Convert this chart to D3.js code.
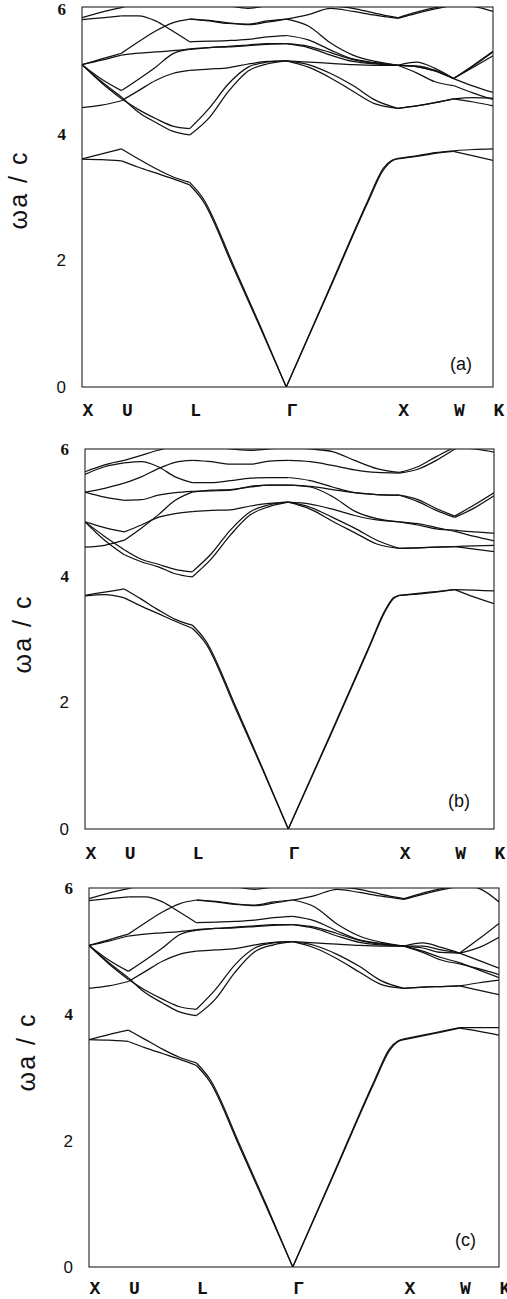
<!DOCTYPE html>
<html>
<head>
<meta charset="utf-8">
<script src="https://cdn.jsdelivr.net/npm/d3@7"></script>
<style>
body { margin: 0; background: #fff; }
svg { display: block; }
.band { fill: none; stroke: #111; stroke-width: 1.25; stroke-linejoin: round; }
.frame { fill: none; stroke: #222; stroke-width: 1.1; }
</style>
</head>
<body>
<svg id="chart" width="507" height="1299"></svg>
<script>
// k path X-U-L-Γ-X-W-K (units of 2π/a, cumulative distance)
var symK = [0, 0.354, 0.966, 1.832, 2.832, 3.332, 3.686];
var symLabels = ["X", "U", "L", "Γ", "X", "W", "K"];
var yTicks = [0, 2, 4, 6];

// sample points for the optical bands and for the two lowest bands
var kGrid = [0, 0.177, 0.354, 0.507, 0.66, 0.813, 0.966, 1.14, 1.31, 1.49, 1.66, 1.832,
             2.03, 2.23, 2.43, 2.63, 2.832, 3.0, 3.166, 3.332, 3.51, 3.686];
var kAco = [0, 0.177, 0.354, 0.507, 0.66, 0.813, 0.966, 1.085, 1.354, 1.6, 1.832,
            2.2, 2.565, 2.7, 2.78, 2.832, 3.0, 3.166, 3.332, 3.51, 3.686];

// ---- panel (a) ----
var aAco1 = [3.60, 3.59, 3.57, 3.47, 3.38, 3.29, 3.19, 2.94, 1.90, 0.93, 0, 1.46, 2.92, 3.42, 3.57, 3.60, 3.64, 3.69, 3.72, 3.65, 3.58];
var aAco2 = [3.60, 3.68, 3.76, 3.60, 3.45, 3.32, 3.23, 2.98, 1.94, 0.96, 0, 1.48, 2.95, 3.45, 3.58, 3.61, 3.65, 3.70, 3.73, 3.75, 3.76];
var aBand1 = [4.41, 4.45, 4.52, 4.68, 4.84, 4.95, 5.00, 5.02, 5.04, 5.10, 5.14, 5.15, 5.13, 5.11, 5.09, 5.08, 5.08, 5.13, 5.03, 4.87, 4.75, 4.65];
var aBand2 = [5.09, 4.80, 4.55, 4.38, 4.24, 4.12, 4.08, 4.40, 4.78, 5.05, 5.13, 5.15, 5.09, 4.95, 4.76, 4.53, 4.40, 4.44, 4.49, 4.55, 4.57, 4.56];
var aBand3 = [5.09, 4.82, 4.58, 4.34, 4.18, 4.04, 3.98, 4.25, 4.66, 4.99, 5.10, 5.15, 5.05, 4.88, 4.67, 4.47, 4.40, 4.44, 4.49, 4.55, 4.50, 4.44];
var aBand4 = [5.09, 4.86, 4.68, 4.86, 5.05, 5.26, 5.33, 5.36, 5.38, 5.40, 5.42, 5.42, 5.36, 5.24, 5.14, 5.10, 5.08, 5.07, 5.00, 4.87, 5.08, 5.30];
var aBand5 = [5.09, 5.18, 5.27, 5.45, 5.62, 5.75, 5.81, 5.78, 5.74, 5.73, 5.78, 5.81, 5.70, 5.43, 5.24, 5.14, 5.08, 4.96, 4.82, 4.76, 4.64, 4.54];
var aBand6 = [5.80, 5.83, 5.86, 5.86, 5.78, 5.62, 5.45, 5.46, 5.47, 5.49, 5.53, 5.55, 5.48, 5.32, 5.18, 5.12, 5.08, 5.06, 4.99, 4.87, 5.05, 5.23];
var aBand7 = [5.09, 5.16, 5.24, 5.27, 5.29, 5.31, 5.34, 5.36, 5.37, 5.39, 5.41, 5.42, 5.38, 5.28, 5.17, 5.11, 5.08, 5.06, 4.99, 4.87, 5.07, 5.29];
var aBand8 = [5.83, 5.92, 5.99, 6.06, 6.10, 6.10, 6.10, 6.06, 6.02, 5.98, 6.02, 6.05, 6.05, 6.02, 5.98, 5.90, 5.83, 5.92, 5.99, 6.04, 6.01, 5.93];
var aBand9 = [null, null, null, null, null, null, 5.81, 5.79, 5.75, 5.72, 5.76, 5.81, 5.88, 5.98, 5.93, 5.87, 5.82, 5.90, 5.97, 6.03, 6.06, 6.06];

// ---- panel (b) ----
var bAco1 = [3.68, 3.70, 3.65, 3.52, 3.40, 3.28, 3.17, 2.94, 1.91, 0.94, 0, 1.43, 2.88, 3.42, 3.64, 3.69, 3.71, 3.74, 3.78, 3.66, 3.56];
var bAco2 = [3.69, 3.74, 3.79, 3.63, 3.46, 3.31, 3.22, 2.98, 1.95, 0.96, 0, 1.45, 2.90, 3.44, 3.65, 3.69, 3.72, 3.75, 3.78, 3.77, 3.76];
var bBand1 = [5.64, 5.75, 5.82, 5.90, 5.98, 6.05, 6.08, 6.05, 6.00, 5.98, 6.00, 6.03, 6.00, 5.96, 5.82, 5.69, 5.63, 5.72, 5.88, 6.03, 6.00, 5.95];
var bBand2 = [5.60, 5.72, 5.78, 5.80, 5.72, 5.56, 5.47, 5.47, 5.50, 5.54, 5.55, 5.55, 5.50, 5.40, 5.31, 5.28, 5.27, 5.17, 5.03, 4.92, 5.07, 5.26];
var bBand3 = [5.32, 5.38, 5.46, 5.56, 5.69, 5.79, 5.82, 5.80, 5.76, 5.76, 5.81, 5.82, 5.80, 5.74, 5.67, 5.63, 5.62, 5.68, 5.82, 6.00, 6.05, 6.05];
var bBand4 = [5.32, 5.24, 5.19, 5.20, 5.27, 5.31, 5.33, 5.34, 5.35, 5.41, 5.43, 5.43, 5.41, 5.36, 5.31, 5.28, 5.27, 5.20, 5.06, 4.94, 5.12, 5.31];
var bBand5 = [4.85, 4.76, 4.69, 4.80, 4.92, 4.98, 5.01, 5.03, 5.04, 5.10, 5.14, 5.16, 5.13, 5.05, 4.95, 4.88, 4.85, 4.82, 4.76, 4.70, 4.62, 4.55];
var bBand6 = [4.85, 4.62, 4.41, 4.26, 4.18, 4.10, 4.06, 4.35, 4.72, 5.01, 5.12, 5.16, 5.08, 4.92, 4.75, 4.56, 4.43, 4.44, 4.45, 4.46, 4.47, 4.48];
var bBand7 = [4.85, 4.56, 4.33, 4.22, 4.14, 4.03, 3.98, 4.27, 4.64, 4.96, 5.09, 5.16, 5.05, 4.86, 4.68, 4.50, 4.43, 4.44, 4.45, 4.46, 4.42, 4.38];
var bBand8 = [4.45, 4.48, 4.56, 4.75, 4.96, 5.19, 5.32, 5.35, 5.36, 5.40, 5.43, 5.43, 5.40, 5.25, 5.02, 4.90, 4.85, 4.80, 4.74, 4.72, 4.69, 4.67];

// ---- panel (c) ----
var cAco1 = [3.60, 3.59, 3.57, 3.47, 3.38, 3.29, 3.19, 2.94, 1.90, 0.93, 0, 1.46, 2.92, 3.42, 3.57, 3.60, 3.66, 3.72, 3.78, 3.73, 3.67];
var cAco2 = [3.60, 3.68, 3.75, 3.60, 3.45, 3.32, 3.23, 2.98, 1.94, 0.96, 0, 1.48, 2.95, 3.45, 3.58, 3.61, 3.67, 3.73, 3.79, 3.79, 3.79];
var cBand1 = [4.41, 4.45, 4.52, 4.68, 4.84, 4.95, 5.00, 5.02, 5.04, 5.10, 5.14, 5.15, 5.13, 5.11, 5.09, 5.08, 5.08, 5.13, 5.06, 4.97, 4.85, 4.73];
var cBand2 = [5.09, 4.80, 4.55, 4.38, 4.24, 4.12, 4.08, 4.40, 4.78, 5.05, 5.13, 5.15, 5.09, 4.95, 4.76, 4.53, 4.41, 4.43, 4.44, 4.45, 4.50, 4.54];
var cBand3 = [5.09, 4.82, 4.58, 4.34, 4.18, 4.04, 3.98, 4.25, 4.66, 4.99, 5.10, 5.15, 5.05, 4.88, 4.67, 4.47, 4.41, 4.43, 4.44, 4.45, 4.38, 4.31];
var cBand4 = [5.09, 4.86, 4.68, 4.86, 5.05, 5.26, 5.33, 5.36, 5.38, 5.40, 5.42, 5.42, 5.36, 5.24, 5.14, 5.10, 5.08, 5.08, 5.02, 4.97, 5.20, 5.44];
var cBand5 = [5.09, 5.18, 5.27, 5.45, 5.62, 5.75, 5.81, 5.78, 5.74, 5.73, 5.78, 5.81, 5.70, 5.43, 5.24, 5.14, 5.08, 4.98, 4.86, 4.80, 4.72, 4.63];
var cBand6 = [5.80, 5.83, 5.86, 5.86, 5.78, 5.62, 5.45, 5.46, 5.47, 5.49, 5.53, 5.55, 5.48, 5.32, 5.18, 5.12, 5.08, 5.05, 4.98, 4.97, 5.06, 5.22];
var cBand7 = [5.09, 5.16, 5.24, 5.27, 5.29, 5.31, 5.34, 5.36, 5.37, 5.39, 5.41, 5.42, 5.38, 5.28, 5.17, 5.11, 5.08, 5.00, 4.90, 4.82, 4.70, 4.58];
var cBand8 = [5.83, 5.92, 5.99, 6.06, 6.10, 6.10, 6.10, 6.06, 6.02, 5.98, 6.02, 6.05, 6.05, 6.02, 5.98, 5.90, 5.83, 5.92, 5.99, 6.05, 5.99, 5.78];
var cBand9 = [null, null, null, null, null, null, 5.81, 5.79, 5.75, 5.72, 5.76, 5.81, 5.88, 5.98, 5.93, 5.87, 5.82, 5.90, 5.97, 6.03, 6.06, 6.06];

// layout of the three stacked panels
var panels = [
    {id: "a", name: "(a)", left: 82, right: 493, top: 7, bottom: 387, padX: 16,
     nameX: 450, nameY: 370, yLabX: 27, yLabY: 190,
     aco: [aAco1, aAco2], bands: [aBand1, aBand2, aBand3, aBand4, aBand5, aBand6, aBand7, aBand8, aBand9]},
    {id: "b", name: "(b)", left: 85, right: 494, top: 449, bottom: 829, padX: 17,
     nameX: 448, nameY: 807, yLabX: 31, yLabY: 634,
     aco: [bAco1, bAco2], bands: [bBand1, bBand2, bBand3, bBand4, bBand5, bBand6, bBand7, bBand8]},
    {id: "c", name: "(c)", left: 89, right: 499, top: 888, bottom: 1267, padX: 14,
     nameX: 455, nameY: 1246, yLabX: 35, yLabY: 1052,
     aco: [cAco1, cAco2], bands: [cBand1, cBand2, cBand3, cBand4, cBand5, cBand6, cBand7, cBand8, cBand9]}
];

var svg = d3.select("#chart");

panels.forEach(function(p) {
    var x = d3.scaleLinear().domain([0, symK[symK.length - 1]]).range([p.left, p.right]);
    var y = d3.scaleLinear().domain([0, 6]).range([p.bottom, p.top]);
    var line = d3.line()
        .x(function(d) { return x(d[0]); })
        .y(function(d) { return y(d[1]); })
        .curve(d3.curveMonotoneX);

    svg.append("clipPath").attr("id", "clip-" + p.id)
        .append("rect")
        .attr("x", p.left).attr("y", p.top)
        .attr("width", p.right - p.left).attr("height", p.bottom - p.top);

    var g = svg.append("g").attr("clip-path", "url(#clip-" + p.id + ")");

    //draw one band, split at the symmetry points
    function drawBand(kArr, vals) {
        var pts = kArr.map(function(k, i) { return [k, vals[i]]; });
        for (var s = 0; s < symK.length - 1; s++) {
            var seg = pts.filter(function(d) {
                return d[1] !== null && d[0] >= symK[s] - 1e-6 && d[0] <= symK[s + 1] + 1e-6;
            });
            if (seg.length < 2) continue;
            g.append("path").attr("class", "band").attr("d", line(seg));
        }
    }
    p.aco.forEach(function(b) { drawBand(kAco, b); });
    p.bands.forEach(function(b) { drawBand(kGrid, b); });

    svg.append("rect").attr("class", "frame")
        .attr("x", p.left).attr("y", p.top)
        .attr("width", p.right - p.left).attr("height", p.bottom - p.top);

    // symmetry point labels
    var xAxis = svg.append("g")
        .attr("transform", "translate(0," + p.bottom + ")")
        .call(d3.axisBottom(x).tickValues(symK).tickSize(0).tickPadding(p.padX)
            .tickFormat(function(d, i) { return symLabels[i]; }));
    xAxis.select(".domain").remove();
    xAxis.selectAll("text")
        .attr("text-anchor", "start")
        .attr("dx", 0)
        .style("font-family", "'Liberation Mono', 'DejaVu Sans Mono', monospace")
        .style("font-weight", "bold")
        .style("font-size", "18px")
        .style("fill", "#111");

    var yAxis = svg.append("g")
        .attr("transform", "translate(" + p.left + ",0)")
        .call(d3.axisLeft(y).tickValues(yTicks).tickSize(0).tickPadding(16).tickFormat(d3.format("d")));
    yAxis.select(".domain").remove();
    yAxis.selectAll("text")
        .attr("dy", function(d) { return (d === 6 && p.top < 10) ? "0.42em" : "0.32em"; })
        .style("font-family", function(d) { return d >= 4 ? "'Liberation Serif', serif" : "'Liberation Sans', sans-serif"; })
        .style("font-weight", function(d) { return d >= 4 ? "bold" : "normal"; })
        .style("font-size", "17px")
        .style("fill", "#111");

    svg.append("text")
        .attr("transform", "translate(" + p.yLabX + "," + p.yLabY + ") rotate(-90)")
        .attr("text-anchor", "middle")
        .style("font-family", "'Liberation Sans', Arial, sans-serif")
        .style("font-size", "25px")
        .style("letter-spacing", "2px")
        .style("fill", "#111")
        .text("ωa / c");

    svg.append("text")
        .attr("x", p.nameX).attr("y", p.nameY)
        .style("font-family", "'Liberation Sans', Arial, sans-serif")
        .style("font-size", "18px")
        .style("fill", "#111")
        .text(p.name);
});
</script>
</body>
</html>
